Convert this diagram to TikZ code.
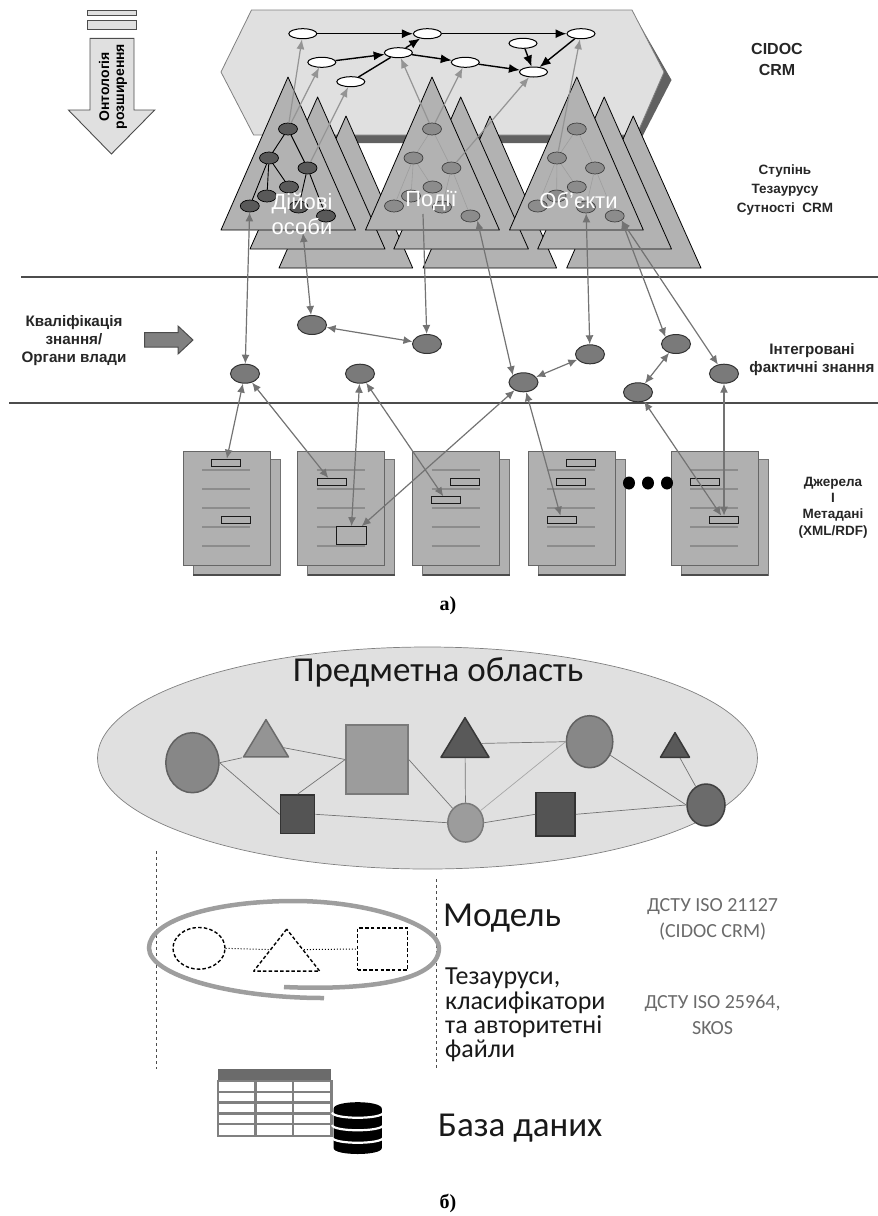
\documentclass[tikz,border=0pt]{standalone}
\usepackage{fontspec}
\setmainfont{Liberation Sans}
\newfontfamily\calfont{Carlito}
\newfontfamily\timesfont{Liberation Serif}
\usetikzlibrary{arrows.meta,shapes.geometric}
\definecolor{plategray}{gray}{0.88}
\definecolor{trigray}{gray}{0.70}
\definecolor{sheetgray}{gray}{0.69}
\definecolor{arrowgray}{gray}{0.45}
\tikzset{
    graphnode/.style={draw=black,fill=white,ellipse,inner sep=0,minimum width=28,minimum height=10,line width=1pt},
    triface/.style={draw=black,fill=trigray,line width=0.8pt,line join=round},
    darkdot/.style={draw=black,fill=black!65,ellipse,inner sep=0,minimum width=19,minimum height=12,line width=0.7pt},
    middot/.style={draw=black!75,fill=black!45,ellipse,inner sep=0,minimum width=19,minimum height=12,line width=0.7pt},
    factdot/.style={draw=black!80,fill=black!52,ellipse,inner sep=0,minimum width=29,minimum height=19,line width=1pt},
    blackarrow/.style={draw=black,line width=1.4pt,-{Latex[length=11pt,width=9pt]}},
    greyarrow/.style={draw=black!42,line width=1.2pt,-{Latex[length=10pt,width=8pt]}},
    twoarrow/.style={draw=arrowgray,line width=1.2pt,{Latex[length=9pt,width=8pt]}-{Latex[length=9pt,width=8pt]}},
    tagbox/.style={draw=black!90,fill=sheetgray,inner sep=0,minimum width=29,minimum height=7,line width=1pt},
    labelbold/.style={font=\bfseries\fontsize{12.5}{18.5}\selectfont,align=center,text=black!85},
    whitelabel/.style={font=\fontsize{22}{25}\selectfont,align=center,text=white},
    modeltext/.style={font=\calfont\fontsize{31}{34}\selectfont,text=black!90,inner sep=0},
    normtext/.style={font=\calfont\fontsize{20}{26}\selectfont,align=center,text=black!58},
    caption/.style={font=\timesfont\bfseries\fontsize{20}{24}\selectfont},
    thinedge/.style={draw=black!55,line width=0.7pt},
    trinode/.style={shape=isosceles triangle,isosceles triangle stretches,shape border rotate=90,inner sep=0,line width=1.5pt,line join=round},
    dashshape/.style={draw=black,dash pattern=on 3.5pt off 2.2pt,line width=1.4pt,fill=none,inner sep=0}
}
\newcommand{\docsheet}[1]{
    \draw[draw=black!55,fill=sheetgray,line width=0.7pt] (#1+10,459) rectangle (#1+97,575);
    \draw[black!70,line width=1.5pt] (#1+10,575) -- (#1+97,575);
    \draw[draw=black!60,fill=sheetgray,line width=0.7pt] (#1,451) rectangle (#1+87,565);
    \draw[black!45,line width=1.2pt] (#1+19,470) -- (#1+67,470);
    \draw[black!45,line width=1.2pt] (#1+19,489) -- (#1+67,489);
    \draw[black!45,line width=1.2pt] (#1+19,508) -- (#1+67,508);
    \draw[black!45,line width=1.2pt] (#1+19,527) -- (#1+67,527);
    \draw[black!45,line width=1.2pt] (#1+19,546) -- (#1+67,546);
}
\begin{document}
\begin{tikzpicture}[x=1pt,y=-1pt]
    \useasboundingbox (0,0) rectangle (878,1216);
    % ontology arrow
    \draw[black!70,fill=plategray,line width=0.9pt] (87,10) rectangle (136,15.7);
    \draw[black!70,fill=plategray,line width=0.9pt] (87,20) rectangle (136,29);
    \draw[black!70,fill=plategray,line width=0.9pt] (90,38.3) -- (134,38.3) -- (134,110) -- (154.7,110) -- (111.4,154) -- (68.4,110) -- (90,110) -- cycle;
    \node[rotate=90,align=center,font=\bfseries\fontsize{14}{15}\selectfont] (ontology) at (113,86.7) {Онтологія\\розширення};
    % plate
    \draw[draw=none,fill=black!62] (636,18) -- (671.5,80) -- (639,143) -- (262,143) -- (262,135) -- (636,135) -- cycle;
    \draw[draw=black!50,fill=plategray,line width=0.8pt] (251.5,10) -- (632,10) -- (664,72) -- (636.6,135) -- (253.6,135) -- (221,72) -- cycle;
    \node[graphnode] (n1) at (302.8,33.7) {};
    \node[graphnode] (n2) at (427.4,33.7) {};
    \node[graphnode] (n3) at (581,33.7) {};
    \node[graphnode] (n4) at (523,43.3) {};
    \node[graphnode] (n5) at (398.4,52.7) {};
    \node[graphnode] (n6) at (321.8,62.3) {};
    \node[graphnode] (n7) at (465.3,62.3) {};
    \node[graphnode] (n8) at (533.5,72) {};
    \node[graphnode] (n9) at (350.8,81.7) {};
    \draw[blackarrow] (n1) -- (n2);
    \draw[blackarrow] (n2) -- (n3);
    \draw[blackarrow] (n6) -- (n5);
    \draw[blackarrow] (n5) -- (n2);
    \draw[blackarrow] (n5) -- (n7);
    \draw[blackarrow] (n7) -- (n8);
    \draw[blackarrow] (n4) -- (n8);
    \draw[blackarrow] (n3) -- (n8);
    \draw[draw=black,line width=1.4pt] (n9) -- (n5);
    % triangles
    \draw[triface] (346,116) -- (279,268) -- (412.7,268) -- cycle;
    \draw[triface] (317.6,97) -- (250,249) -- (385,249) -- cycle;
    \draw[triface] (288,77) -- (221,230) -- (355.5,230) -- cycle;
    \draw[triface] (490,116) -- (423,268) -- (556.6,268) -- cycle;
    \draw[triface] (460.7,97) -- (393.8,249) -- (528.4,249) -- cycle;
    \draw[triface] (432,77) -- (365.5,230) -- (499.4,230) -- cycle;
    \draw[triface] (633.2,116) -- (566.7,268) -- (701,268) -- cycle;
    \draw[triface] (604.2,97) -- (537.7,249) -- (671.5,249) -- cycle;
    \draw[triface] (576.8,77) -- (509.5,230) -- (643.3,230) -- cycle;
    \node[darkdot] (a1) at (288,129) {};
    \node[darkdot] (a2) at (269,158) {};
    \node[darkdot] (a3) at (307.5,168) {};
    \node[darkdot] (a4) at (289,187) {};
    \node[darkdot] (a5) at (267,196) {};
    \node[darkdot] (a6) at (249.8,206) {};
    \node[darkdot] (a7) at (298.6,207) {};
    \node[darkdot] (a8) at (326,216) {};
    \draw[black,line width=0.9pt] (a1) -- (a2);
    \draw[black,line width=0.9pt] (a1) -- (a3);
    \draw[black,line width=0.9pt] (a2) -- (a4);
    \draw[black,line width=0.9pt] (a2) -- (a5);
    \draw[black,line width=0.9pt] (a2) -- (a6);
    \draw[black,line width=0.9pt] (a3) -- (a7);
    \draw[black,line width=0.9pt] (a3) -- (a8);
    \node[middot] (b1) at (432,129) {};
    \node[middot] (b2) at (413.5,158) {};
    \node[middot] (b3) at (451.4,168) {};
    \node[middot] (b4) at (432.5,187) {};
    \node[middot] (b5) at (411,196) {};
    \node[middot] (b6) at (394,206) {};
    \node[middot] (b7) at (442,207) {};
    \node[middot] (b8) at (470.4,216) {};
    \draw[black!38,line width=0.6pt] (b1) -- (b2);
    \draw[black!38,line width=0.6pt] (b1) -- (b3);
    \draw[black!38,line width=0.6pt] (b2) -- (b4);
    \draw[black!38,line width=0.6pt] (b2) -- (b5);
    \draw[black!38,line width=0.6pt] (b2) -- (b6);
    \draw[black!38,line width=0.6pt] (b3) -- (b7);
    \draw[black!38,line width=0.6pt] (b3) -- (b8);
    \node[middot] (c1) at (576.8,129) {};
    \node[middot] (c2) at (557,158) {};
    \node[middot] (c3) at (595,168) {};
    \node[middot] (c4) at (576.8,187) {};
    \node[middot] (c5) at (556.6,196) {};
    \node[middot] (c6) at (537.7,206) {};
    \node[middot] (c7) at (586,207) {};
    \node[middot] (c8) at (614.7,216) {};
    \draw[black!38,line width=0.6pt] (c1) -- (c2);
    \draw[black!38,line width=0.6pt] (c1) -- (c3);
    \draw[black!38,line width=0.6pt] (c2) -- (c4);
    \draw[black!38,line width=0.6pt] (c2) -- (c5);
    \draw[black!38,line width=0.6pt] (c2) -- (c6);
    \draw[black!38,line width=0.6pt] (c3) -- (c7);
    \draw[black!38,line width=0.6pt] (c3) -- (c8);
    % up to the top graph
    \draw[greyarrow] (a1) -- (n1);
    \draw[greyarrow] (a1) -- (n6);
    \draw[greyarrow] (a3) -- (n9);
    \draw[greyarrow] (b1) -- (n5);
    \draw[greyarrow] (b1) -- (n7);
    \draw[greyarrow] (b3) -- (n8);
    \draw[greyarrow] (c2) -- (n3);
    % bands
    \draw[black!70,line width=1.8pt] (21,277) -- (878,277);
    \draw[black!70,line width=1.8pt] (9,403) -- (878,403);
    % documents
    \docsheet{183}
    \docsheet{297.5}
    \docsheet{412.5}
    \docsheet{528}
    \docsheet{671}
    \node[tagbox] (r1a) at (226,462.7) {};
    \node[tagbox] (r1b) at (235.7,519.7) {};
    \node[tagbox] (r2a) at (331.5,482) {};
    \node[tagbox,minimum width=30,minimum height=18] (rbig) at (351,535.7) {};
    \node[tagbox] (r3a) at (465,482) {};
    \node[tagbox] (r3b) at (446,500.3) {};
    \node[tagbox] (r4a) at (580.6,462.7) {};
    \node[tagbox] (r4b) at (571,482) {};
    \node[tagbox] (r4c) at (561.6,519.7) {};
    \node[tagbox] (r5a) at (705,482) {};
    \node[tagbox] (r5b) at (724,519.7) {};
    \node[draw=none,fill=black,ellipse,inner sep=0,minimum width=12,minimum height=13] (dot1) at (629,483) {};
    \node[draw=none,fill=black,ellipse,inner sep=0,minimum width=12,minimum height=13] (dot2) at (648,483) {};
    \node[draw=none,fill=black,ellipse,inner sep=0,minimum width=12,minimum height=13] (dot3) at (667,483) {};
    % facts
    \node[factdot] (m1) at (312,325) {};
    \node[factdot] (m2) at (427,344) {};
    \node[factdot] (m3) at (245,373.7) {};
    \node[factdot] (m4) at (360,373.7) {};
    \node[factdot] (m5) at (523.5,382.3) {};
    \node[factdot] (m6) at (590,354.3) {};
    \node[factdot] (m7) at (676,344) {};
    \node[factdot] (m8) at (638,392.3) {};
    \node[factdot] (m9) at (724,373.7) {};
    \coordinate (a7tip) at (303,233);
    \coordinate (b7tip) at (423,214);
    \draw[twoarrow] (a6) -- (m3);
    \draw[twoarrow] (a7tip) -- (m1);
    \draw[twoarrow,-{Latex[length=9pt,width=8pt]}] (b7tip) -- (m2);
    \draw[twoarrow] (b8.south east) -- (m5.north west);
    \draw[twoarrow] (c7) -- (m6);
    \draw[twoarrow] (c8.south east) -- (m7.north west);
    \draw[twoarrow] (c8.south east) -- (m9);
    \draw[twoarrow] (m1) -- (m2);
    \draw[twoarrow] (m5) -- (m6);
    \draw[twoarrow] (m7) -- (m8);
    \draw[twoarrow] (m3) -- (r1a);
    \draw[twoarrow] (m3) -- (r2a);
    \draw[twoarrow] (m4) -- (rbig);
    \draw[twoarrow] (m4) -- (r3b);
    \draw[twoarrow] (m5) -- (rbig);
    \draw[twoarrow] (m5) -- (r4c);
    \draw[twoarrow] (m8) -- (r5b);
    \draw[twoarrow] (m9) -- (r5b);
    \draw[draw=black!70,fill=black!50,line width=1pt] (144.5,332.7) -- (178,332.7) -- (178,326) -- (193,340) -- (178,354) -- (178,347) -- (144.5,347) -- cycle;
    % labels
    \node[whitelabel] (actors) at (302,213.5) {Дійові\\особи};
    \node[whitelabel] (events) at (431,201) {Події};
    \node[whitelabel] (objects) at (578.5,201) {Об'єкти};
    \node[labelbold,font=\bfseries\fontsize{16}{21}\selectfont] (crm) at (777,59.5) {CIDOC\\CRM};
    \node[labelbold,font=\bfseries\fontsize{13.5}{19}\selectfont] (thes) at (785,190) {Ступінь\\Тезаурусу\\Сутності\ \ CRM};
    \node[labelbold,font=\bfseries\fontsize{15.2}{18}\selectfont] (qualif) at (74,341) {Кваліфікація\\знання/\\Органи влади};
    \node[labelbold,font=\bfseries\fontsize{15.2}{18}\selectfont] (facts) at (812,360) {Інтегровані\\фактичні знання};
    \node[labelbold,font=\bfseries\fontsize{13.5}{16.3}\selectfont] (sources) at (833,507.5) {Джерела\\І\\Метадані\\(XML/RDF)};
    \node[caption] (capa) at (448,606) {а)};
    % domain
    \node[draw=black!50,fill=plategray,ellipse,inner sep=0,minimum width=660,minimum height=222,line width=0.7pt] (domain) at (427.5,758) {};
    \node[font=\calfont\fontsize{35}{38}\selectfont,text=black!90] (domaintext) at (438,672) {Предметна область};
    \node[ellipse,draw=black!62,fill=black!47,line width=1.5pt,inner sep=0,minimum width=53,minimum height=60] (e1) at (192.4,762.7) {};
    \node[trinode,draw=black!58,fill=black!42,minimum width=45,minimum height=37.3,anchor=apex] (t1) at (266,717.7) {};
    \node[draw=black!52,fill=black!39,line width=1.5pt,inner sep=0,minimum width=62,minimum height=69] (s1) at (377,759.5) {};
    \node[trinode,draw=black!78,fill=black!65,minimum width=48,minimum height=39.6,anchor=apex] (t2) at (465,715.7) {};
    \node[ellipse,draw=black!62,fill=black!47,line width=1.5pt,inner sep=0,minimum width=46.4,minimum height=52] (e2) at (589.6,741.7) {};
    \node[trinode,draw=black!78,fill=black!65,minimum width=29,minimum height=24.6,anchor=apex] (t3) at (675,730.7) {};
    \node[ellipse,draw=black!75,fill=black!58,line width=1.5pt,inner sep=0,minimum width=38,minimum height=42] (e3) at (706,805) {};
    \node[draw=black!80,fill=black!67,line width=1.5pt,inner sep=0,minimum width=34.4,minimum height=38.7] (s2) at (297.5,814.3) {};
    \node[ellipse,draw=black!52,fill=black!39,line width=1.5pt,inner sep=0,minimum width=35.6,minimum height=38.7] (e4) at (465.6,822.7) {};
    \node[draw=black!80,fill=black!67,line width=1.5pt,inner sep=0,minimum width=39,minimum height=43.3] (s3) at (555.5,814.3) {};
    \draw[thinedge] (e1.east) -- (t1.left corner);
    \draw[thinedge] (e1.east) -- (s2.west);
    \draw[thinedge] (t1) -- (s1.west);
    \draw[thinedge] (s1.west) -- (s2.north);
    \draw[thinedge] (s1.east) -- (e4);
    \draw[thinedge] (t2) -- (e2.west);
    \draw[thinedge] (t2) -- (e4);
    \draw[thinedge,draw=black!35] (e2.west) -- (e4);
    \draw[thinedge] (e2) -- (e3.west);
    \draw[thinedge] (t3) -- (e3);
    \draw[thinedge] (s2.east) -- (e4.west);
    \draw[thinedge] (e4.east) -- (s3.west);
    \draw[thinedge] (s3.east) -- (e3.west);
    % model
    \draw[black!70,dashed,line width=0.7pt] (156,851) -- (156,1069);
    \draw[black!70,dashed,line width=0.7pt] (436,879) -- (436,1069);
    \draw[black!38,line width=4.5pt] (284,987) .. controls (350,990) and (439,985) .. (439,948) .. controls (439,925) and (370,901) .. (294,901) .. controls (215,901) and (149,920) .. (149,948) .. controls (149,975) and (230,998) .. (324,998);
    \node[dashshape,ellipse,minimum width=52,minimum height=41.7] (dcirc) at (199,948.3) {};
    \node[trinode,dashshape,minimum width=66,minimum height=42,anchor=apex] (dtri) at (286.7,927.3) {};
    \node[dashshape,minimum width=50,minimum height=42] (dsq) at (382.7,949) {};
    \draw[black,dotted,line width=1pt] (dcirc.east) -- (dtri.left side);
    \draw[black,dotted,line width=1pt] (dtri.right side) -- (dsq.west);
    \node[modeltext,anchor=west,font=\calfont\fontsize{35}{37}\selectfont] (model) at (443,918) {Модель};
    \node[modeltext,anchor=north west,align=left,font=\calfont\fontsize{26}{24.3}\selectfont] (thesauri) at (445,968) {Тезауруси,\\класифікатори\\та авторитетні\\файли};
    \node[normtext] (norm1) at (712.6,919) {ДСТУ ISO 21127\\(CIDOC CRM)};
    \node[normtext] (norm2) at (712.6,1014.7) {ДСТУ ISO 25964,\\SKOS};
    % database
    \fill[black!58] (218,1069) rectangle (331.3,1081);
    \draw[black!50,line width=2.4pt] (218,1081) rectangle (331.3,1135.7);
    \draw[black!50,line width=2.4pt] (218,1091.7) -- (331.3,1091.7);
    \draw[black!50,line width=2.4pt] (218,1102.3) -- (331.3,1102.3);
    \draw[black!50,line width=2.4pt] (218,1113.3) -- (331.3,1113.3);
    \draw[black!50,line width=2.4pt] (218,1124) -- (331.3,1124);
    \draw[black!50,line width=2.4pt] (255.5,1081) -- (255.5,1135.7);
    \draw[black!50,line width=2.4pt] (293,1081) -- (293,1135.7);
    \fill[black] (333.6,1108.7) .. controls (333.6,1100) and (381.8,1100) .. (381.8,1108.7) -- (381.8,1148) .. controls (381.8,1156) and (333.6,1156) .. (333.6,1148) -- cycle;
    \draw[white,line width=2.2pt] (332,1112.5) .. controls (333.6,1119.5) and (381.8,1119.5) .. (383.4,1112.5);
    \draw[white,line width=2.2pt] (332,1125) .. controls (333.6,1132) and (381.8,1132) .. (383.4,1125);
    \draw[white,line width=2.2pt] (332,1137.5) .. controls (333.6,1144.5) and (381.8,1144.5) .. (383.4,1137.5);
    \node[modeltext,anchor=west,font=\calfont\fontsize{35}{37}\selectfont] (dbtext) at (438,1128) {База даних};
    \node[caption] (capb) at (448,1203) {б)};
\end{tikzpicture}
\end{document}
